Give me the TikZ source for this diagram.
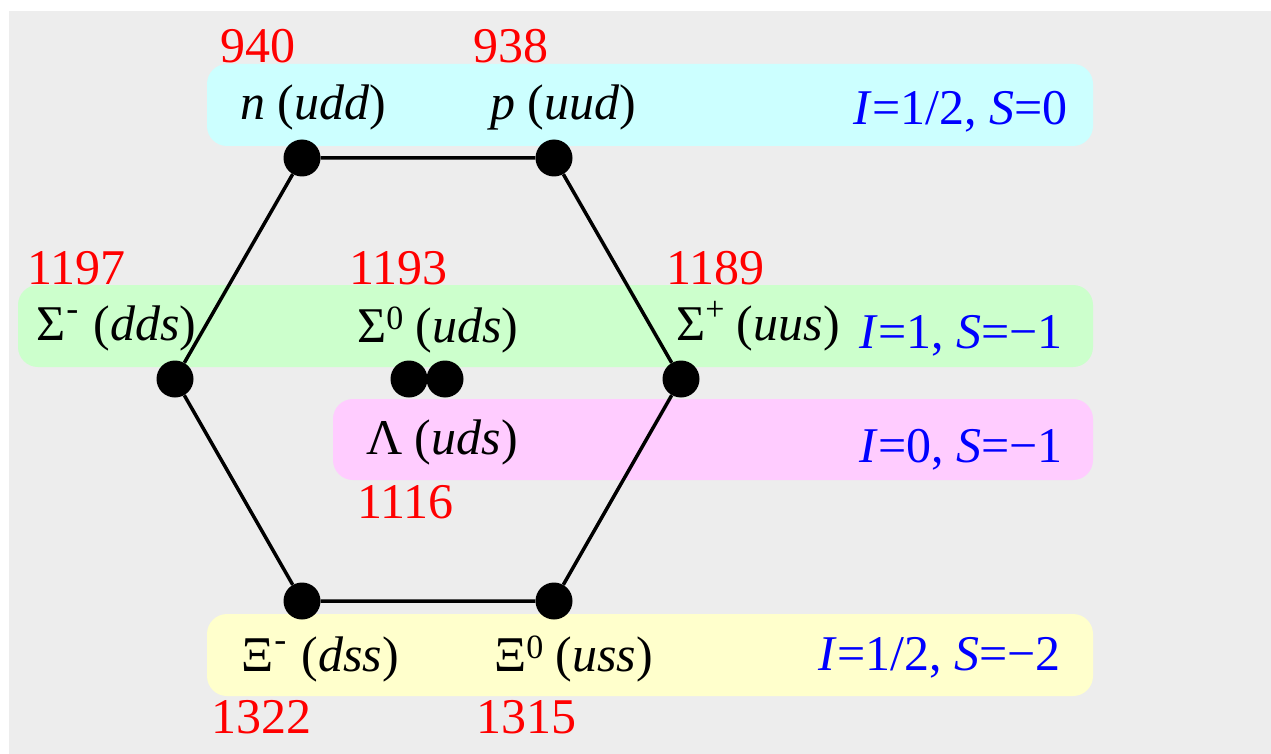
\documentclass[tikz,border=0pt]{standalone}
\usepackage{fontspec}
\setmainfont{Liberation Serif}
\definecolor{bgc}{HTML}{EDEDED}
\definecolor{cyanband}{HTML}{CCFFFF}
\definecolor{greenband}{HTML}{CCFFCC}
\definecolor{pinkband}{HTML}{FFCCFF}
\definecolor{yellowband}{HTML}{FFFFCC}
\newcommand\spzero{\raisebox{13pt}{\fontsize{34}{40}\selectfont 0}}
\newcommand\spminus{\hspace{1pt}\raisebox{20pt}{\fontsize{36}{40}\selectfont -}\hspace{3pt}}
\newcommand\spplus{\raisebox{20pt}{\fontsize{34}{40}\selectfont +}}
\begin{document}
\begin{tikzpicture}[x=1pt,y=-1pt,
  band/.style={rounded corners=20pt},
  lbl/.style={anchor=base west,inner sep=0pt,font=\fontsize{50}{60}\selectfont},
  mass/.style={anchor=base west,inner sep=0pt,text=red,font=\fontsize{50}{60}\selectfont},
  qn/.style={anchor=base east,inner sep=0pt,text=blue,font=\fontsize{50}{60}\selectfont},
  dot/.style={circle,fill=black,inner sep=0pt,minimum size=37pt},
  edge/.style={line width=3.5pt}]
\useasboundingbox (0,0) rectangle (1271,754);
\fill[white] (0,0) rectangle (1271,754);
\fill[bgc] (9,11) rectangle (1271,754);
% bands
\fill[band,cyanband] (207,64) rectangle (1093,146);
\fill[band,greenband] (18,285) rectangle (1093,367);
\fill[band,pinkband] (333,399) rectangle (1093,480);
\fill[band,yellowband] (207,614) rectangle (1093,696);
% dots
\node[dot] (n) at (302,158) {};
\node[dot] (p) at (554,158) {};
\node[dot] (sp) at (681,379) {};
\node[dot] (x0) at (554,601) {};
\node[dot] (xm) at (302,601) {};
\node[dot] (sm) at (175,379) {};
% particle labels
\node[lbl] (tn) at (240,120) {\textit{n} (\textit{udd})};
\node[lbl] (tp) at (490,120) {\textit{p} (\textit{uud})};
\node[lbl] (tsm) at (36,340) {Σ\spminus\ (\textit{dds})};
\node[lbl] (ts0) at (357,342) {Σ\spzero\ (\textit{uds})};
\node[lbl] (tsp) at (676,340) {Σ\spplus\ (\textit{uus})};
\node[lbl] (tl) at (366,454) {Λ (\textit{uds})};
\node[lbl] (txm) at (241,671) {Ξ\spminus\ (\textit{dss})};
\node[lbl] (tx0) at (494,671) {Ξ\spzero\ (\textit{uss})};
% hexagon
\draw[edge] (n) -- (p) -- (sp) -- (x0) -- (xm) -- (sm) -- (n);
\node[dot] (s0) at (409,379) {};
\node[dot] (lam) at (445,379) {};
% masses
\node[mass] (m940) at (220,63) {940};
\node[mass] (m938) at (473,63) {938};
\node[mass] (m1197) at (27,284) {1197};
\node[mass] (m1193) at (349,284) {1193};
\node[mass] (m1189) at (666,284) {1189};
\node[mass] (m1116) at (357,518) {1116};
\node[mass] (m1322) at (211,733) {1322};
\node[mass] (m1315) at (476,733) {1315};
% quantum numbers
\node[qn] (q1) at (1068,125) {\textit{I}=1/2, \textit{S}=0};
\node[qn] (q2) at (1063,348) {\textit{I}=1, \textit{S}=−1};
\node[qn] (q3) at (1063,462) {\textit{I}=0, \textit{S}=−1};
\node[qn] (q4) at (1061,670) {\textit{I}=1/2, \textit{S}=−2};
\end{tikzpicture}
\end{document}
